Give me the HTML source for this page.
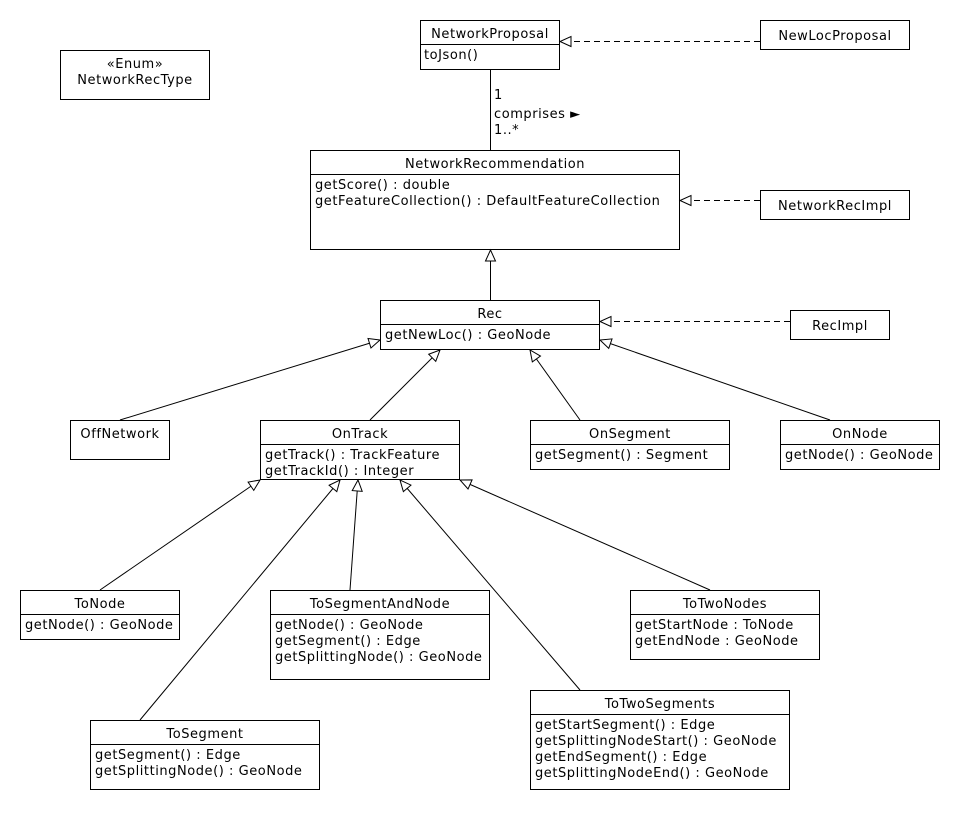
<!DOCTYPE html>
<html><head><meta charset="utf-8"><style>
html,body{margin:0;padding:0;background:#fff;}
svg text{font-family:"DejaVu Sans","Liberation Sans",sans-serif;font-size:13px;fill:#000;letter-spacing:0.55px;}
</style></head><body>
<svg width="960" height="810" viewBox="0 0 960 810" xmlns="http://www.w3.org/2000/svg">
<defs>
<marker id="tri" markerWidth="14" markerHeight="14" refX="12" refY="6" orient="auto" markerUnits="userSpaceOnUse">
<path d="M1,1 L12,6 L1,11 Z" fill="#fff" stroke="#000" stroke-width="1"/>
</marker>
</defs>
<g fill="#fff" stroke="#000" stroke-width="1">
<rect x="420.5" y="20.5" width="139" height="49"/><line x1="420" y1="44.5" x2="560" y2="44.5"/>
<rect x="760.5" y="20.5" width="149" height="29"/>
<rect x="60.5" y="50.5" width="149" height="49"/>
<rect x="310.5" y="150.5" width="369" height="99"/><line x1="310" y1="174.5" x2="680" y2="174.5"/>
<rect x="760.5" y="190.5" width="149" height="29"/>
<rect x="380.5" y="300.5" width="219" height="49"/><line x1="380" y1="324.5" x2="600" y2="324.5"/>
<rect x="790.5" y="310.5" width="99" height="29"/>
<rect x="70.5" y="420.5" width="99" height="39"/>
<rect x="260.5" y="420.5" width="199" height="59"/><line x1="260" y1="444.5" x2="460" y2="444.5"/>
<rect x="530.5" y="420.5" width="199" height="49"/><line x1="530" y1="444.5" x2="730" y2="444.5"/>
<rect x="780.5" y="420.5" width="159" height="49"/><line x1="780" y1="444.5" x2="940" y2="444.5"/>
<rect x="20.5" y="590.5" width="159" height="49"/><line x1="20" y1="614.5" x2="180" y2="614.5"/>
<rect x="270.5" y="590.5" width="219" height="89"/><line x1="270" y1="614.5" x2="490" y2="614.5"/>
<rect x="630.5" y="590.5" width="189" height="69"/><line x1="630" y1="614.5" x2="820" y2="614.5"/>
<rect x="90.5" y="720.5" width="229" height="69"/><line x1="90" y1="744.5" x2="320" y2="744.5"/>
<rect x="530.5" y="690.5" width="259" height="99"/><line x1="530" y1="714.5" x2="790" y2="714.5"/>
</g>
<g stroke="#000" stroke-width="1" fill="none">
<line x1="760" y1="41.5" x2="560" y2="41.5" stroke-dasharray="6,4" marker-end="url(#tri)"/>
<line x1="490.5" y1="70" x2="490.5" y2="150"/>
<line x1="760" y1="200.5" x2="680" y2="200.5" stroke-dasharray="6,4" marker-end="url(#tri)"/>
<line x1="490.5" y1="300" x2="490.5" y2="250" marker-end="url(#tri)"/>
<line x1="790" y1="321.5" x2="600" y2="321.5" stroke-dasharray="6,4" marker-end="url(#tri)"/>
<line x1="120" y1="420" x2="380" y2="340" marker-end="url(#tri)"/>
<line x1="370" y1="420" x2="440" y2="350" marker-end="url(#tri)"/>
<line x1="580" y1="420" x2="530" y2="350" marker-end="url(#tri)"/>
<line x1="830" y1="420" x2="600" y2="340" marker-end="url(#tri)"/>
<line x1="100" y1="590" x2="260" y2="480" marker-end="url(#tri)"/>
<line x1="140" y1="720" x2="340" y2="480" marker-end="url(#tri)"/>
<line x1="350" y1="590" x2="358" y2="480" marker-end="url(#tri)"/>
<line x1="580" y1="690" x2="400" y2="480" marker-end="url(#tri)"/>
<line x1="710" y1="590" x2="460" y2="480" marker-end="url(#tri)"/>
</g>
<g text-anchor="middle">
<text x="490" y="38">NetworkProposal</text>
<text x="835" y="40">NewLocProposal</text>
<text x="135" y="68">«Enum»</text>
<text x="135" y="84">NetworkRecType</text>
<text x="495" y="168">NetworkRecommendation</text>
<text x="835" y="210">NetworkRecImpl</text>
<text x="490" y="318">Rec</text>
<text x="840" y="330">RecImpl</text>
<text x="120" y="438">OffNetwork</text>
<text x="360" y="438">OnTrack</text>
<text x="630" y="438">OnSegment</text>
<text x="860" y="438">OnNode</text>
<text x="100" y="608">ToNode</text>
<text x="380" y="608">ToSegmentAndNode</text>
<text x="725" y="608">ToTwoNodes</text>
<text x="205" y="738">ToSegment</text>
<text x="660" y="708">ToTwoSegments</text>
</g>
<g>
<text x="424" y="59">toJson()</text>
<text x="494" y="99">1</text>
<text x="494" y="118">comprises ►</text>
<text x="494" y="134">1..*</text>
<text x="315" y="189">getScore() : double</text>
<text x="315" y="205">getFeatureCollection() : DefaultFeatureCollection</text>
<text x="385" y="339">getNewLoc() : GeoNode</text>
<text x="265" y="459">getTrack() : TrackFeature</text>
<text x="265" y="475">getTrackId() : Integer</text>
<text x="535" y="459">getSegment() : Segment</text>
<text x="785" y="459">getNode() : GeoNode</text>
<text x="25" y="629">getNode() : GeoNode</text>
<text x="275" y="629">getNode() : GeoNode</text>
<text x="275" y="645">getSegment() : Edge</text>
<text x="275" y="661">getSplittingNode() : GeoNode</text>
<text x="635" y="629">getStartNode : ToNode</text>
<text x="635" y="645">getEndNode : GeoNode</text>
<text x="95" y="759">getSegment() : Edge</text>
<text x="95" y="775">getSplittingNode() : GeoNode</text>
<text x="535" y="729">getStartSegment() : Edge</text>
<text x="535" y="745">getSplittingNodeStart() : GeoNode</text>
<text x="535" y="761">getEndSegment() : Edge</text>
<text x="535" y="777">getSplittingNodeEnd() : GeoNode</text>
</g>
</svg>
</body></html>
